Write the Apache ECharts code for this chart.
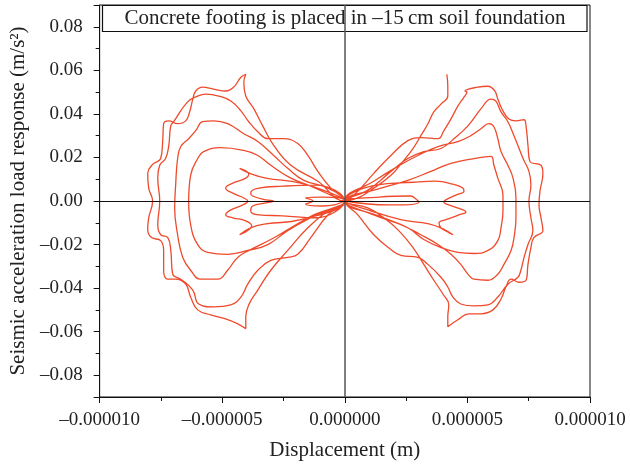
<!DOCTYPE html>
<html>
<head>
<meta charset="utf-8">
<script src="https://cdn.jsdelivr.net/npm/echarts@6/dist/echarts.min.js"></script>
<style>html,body{margin:0;padding:0;background:#fff}#c{width:630px;height:466px}</style>
</head>
<body>
<div id="c"></div>
<script>
// x values in micrometres (converted to metres with UNIT), y values in m/s^2
const UNIT = 1e-6;
const titleText = 'Concrete footing is placed in \u201315\u2009cm soil foundation';
const xName = 'Displacement (m)';
const yName = 'Seismic acceleration load response (m/s\u00b2)';

const rayTopRight = [[4.16,0.0582],[4.20,0.0527],[4.20,0.0482],[3.92,0.0445],[3.63,0.0409],[3.39,0.0355],[3.10,0.0300],[2.78,0.0241],[2.37,0.0182],[1.88,0.0118],[1.18,0.0059],[0.53,0.0014],[0,0]];

const loopL1 = [[-1.10,0.0091],[-2.20,0.0164],[-2.90,0.0255],[-3.35,0.0345],[-3.71,0.0423],[-4.04,0.0482],[-4.12,0.0545],[-4.04,0.0582],[-4.24,0.0568],[-4.53,0.0523],[-4.86,0.0505],[-5.35,0.0514],[-5.80,0.0523],[-6.08,0.0505],[-6.20,0.0468],[-6.33,0.0409],[-6.49,0.0368],[-6.82,0.0355],[-7.18,0.0368],[-7.39,0.0355],[-7.43,0.0273],[-7.51,0.0195],[-7.84,0.0168],[-8.04,0.0127],[-8.00,0.0059],[-7.84,0],[-8.00,-0.0077],[-8.04,-0.0132],[-7.88,-0.0168],[-7.51,-0.0182],[-7.39,-0.0227],[-7.39,-0.0318],[-7.22,-0.0359],[-6.90,-0.0359],[-6.49,-0.0382],[-6.29,-0.0441],[-6.00,-0.0500],[-5.47,-0.0523],[-4.86,-0.0541],[-4.37,-0.0564],[-4.04,-0.0586],[-4.04,-0.0532],[-3.92,-0.0477],[-3.55,-0.0409],[-3.02,-0.0318],[-2.33,-0.0227],[-1.51,-0.0123],[-0.69,-0.0045],[0,0]];

const loopL2 = [[-0.57,0.0059],[-1.10,0.0136],[-1.51,0.0209],[-1.92,0.0264],[-2.49,0.0286],[-3.14,0.0286],[-3.55,0.0318],[-3.92,0.0364],[-4.24,0.0414],[-4.65,0.0459],[-5.14,0.0482],[-5.67,0.0491],[-6.00,0.0482],[-6.41,0.0455],[-6.98,0.0364],[-7.10,0.0345],[-7.18,0.0255],[-7.31,0.0195],[-7.55,0.0164],[-7.63,0.0105],[-7.55,0],[-7.63,-0.0109],[-7.51,-0.0155],[-7.22,-0.0168],[-7.10,-0.0227],[-7.02,-0.0336],[-6.69,-0.0359],[-6.20,-0.0409],[-5.96,-0.0473],[-5.35,-0.0486],[-4.65,-0.0477],[-4.24,-0.0441],[-3.96,-0.0382],[-3.55,-0.0318],[-3.02,-0.0273],[-2.33,-0.0259],[-1.92,-0.0245],[-1.39,-0.0168],[-0.69,-0.0064],[0,0]];

const loopL3 = [[-0.69,0.0059],[-1.67,0.0095],[-2.33,0.0150],[-2.90,0.0209],[-3.55,0.0273],[-4.12,0.0309],[-4.78,0.0355],[-5.35,0.0368],[-5.80,0.0364],[-6.08,0.0323],[-6.37,0.0286],[-6.69,0.0250],[-6.82,0.0195],[-6.90,0.0073],[-6.94,-0.0032],[-6.82,-0.0155],[-6.61,-0.0259],[-6.29,-0.0318],[-5.88,-0.0359],[-5.18,-0.0359],[-4.78,-0.0318],[-4.37,-0.0259],[-3.84,-0.0223],[-3.02,-0.0177],[-2.20,-0.0123],[-1.27,-0.0064],[0,0]];

const loopL4 = [[-0.57,0.0027],[-1.39,0.0068],[-2.20,0.0105],[-3.02,0.0164],[-3.55,0.0209],[-4.12,0.0232],[-5.06,0.0245],[-5.76,0.0227],[-6.00,0.0195],[-6.29,0.0118],[-6.37,0],[-6.29,-0.0109],[-6.00,-0.0200],[-5.59,-0.0236],[-4.78,-0.0245],[-3.96,-0.0227],[-3.14,-0.0200],[-2.33,-0.0136],[-1.39,-0.0077],[0,0]];

const loopL5 = [[-0.57,0.0036],[-1.80,0.0082],[-3.22,0.0105],[-3.80,0.0123],[-4.29,0.0150],[-3.92,0.0123],[-4.04,0.0105],[-4.57,0.0082],[-4.86,0.0059],[-4.57,0.0036],[-4.12,0.0014],[-3.96,0],[-4.16,-0.0018],[-4.65,-0.0041],[-4.86,-0.0064],[-4.57,-0.0077],[-4.04,-0.0091],[-3.80,-0.0114],[-4.29,-0.0155],[-3.84,-0.0123],[-3.22,-0.0105],[-1.80,-0.0086],[0,0]];

const loopL6 = [[-1.18,0.0073],[-2.53,0.0068],[-3.51,0.0059],[-3.84,0.0036],[-3.76,0.0023],[-3.22,0.0005],[-2.90,0],[-3.22,-0.0009],[-3.76,-0.0023],[-3.84,-0.0045],[-3.51,-0.0064],[-2.53,-0.0068],[-1.18,-0.0077],[0,0]];

const loopL7 = [[-0.9,0.0018],[-1.6,0.0014],[-1.3,0],[-1.6,-0.0014],[-0.9,-0.0023],[0,0]];

const loopR1 = [[0.53,0.0045],[1.18,0.0127],[1.88,0.0209],[2.57,0.0277],[3.10,0.0291],[3.80,0.0286],[4.04,0.0323],[4.33,0.0377],[4.61,0.0436],[4.86,0.0477],[4.98,0.0500],[4.90,0.0505],[5.43,0.0523],[5.84,0.0527],[6.12,0.0505],[6.24,0.0468],[6.45,0.0414],[6.69,0.0377],[6.98,0.0368],[7.31,0.0373],[7.39,0.0345],[7.47,0.0255],[7.55,0.0182],[8.00,0.0164],[8.08,0.0127],[7.96,0.0045],[7.92,-0.0018],[8.00,-0.0077],[8.08,-0.0136],[7.71,-0.0168],[7.59,-0.0214],[7.47,-0.0291],[7.39,-0.0364],[7.10,-0.0373],[6.78,-0.0359],[6.57,-0.0395],[6.37,-0.0450],[6.04,-0.0500],[5.55,-0.0518],[5.06,-0.0518],[4.61,-0.0545],[4.20,-0.0577],[4.20,-0.0532],[4.24,-0.0477],[4.00,-0.0427],[3.63,-0.0364],[3.22,-0.0291],[2.78,-0.0214],[2.20,-0.0136],[1.59,-0.0077],[0.94,-0.0032],[0,0]];

const loopR2 = [[0.94,0.0050],[1.88,0.0136],[2.57,0.0195],[3.22,0.0227],[3.92,0.0241],[4.45,0.0286],[5.02,0.0345],[5.55,0.0423],[5.96,0.0468],[6.16,0.0459],[6.37,0.0409],[6.65,0.0364],[6.90,0.0300],[7.06,0.0255],[7.27,0.0195],[7.51,0.0136],[7.59,0.0073],[7.51,0],[7.59,-0.0077],[7.67,-0.0136],[7.47,-0.0200],[7.31,-0.0259],[7.18,-0.0318],[7.06,-0.0350],[6.65,-0.0382],[6.24,-0.0441],[5.84,-0.0477],[5.27,-0.0482],[4.73,-0.0473],[4.41,-0.0441],[4.20,-0.0395],[3.92,-0.0350],[3.39,-0.0291],[2.98,-0.0259],[2.29,-0.0250],[1.88,-0.0223],[1.18,-0.0155],[0.53,-0.0064],[0,0]];

const loopR3 = [[1.18,0.0091],[2.16,0.0159],[2.98,0.0209],[3.80,0.0250],[4.61,0.0273],[5.14,0.0300],[5.55,0.0332],[5.88,0.0355],[6.08,0.0341],[6.24,0.0286],[6.37,0.0227],[6.65,0.0164],[6.86,0.0105],[6.98,0.0014],[6.98,-0.0077],[6.90,-0.0168],[6.78,-0.0227],[6.49,-0.0291],[6.24,-0.0336],[5.84,-0.0364],[5.27,-0.0359],[5.02,-0.0336],[4.73,-0.0291],[4.33,-0.0245],[3.80,-0.0200],[3.10,-0.0155],[2.29,-0.0109],[1.18,-0.0064],[0,0]];

const loopR4 = [[1.47,0.0059],[2.57,0.0095],[3.51,0.0136],[4.33,0.0173],[5.27,0.0195],[5.96,0.0205],[6.08,0.0164],[6.24,0.0105],[6.45,0.0027],[6.45,-0.0045],[6.37,-0.0123],[6.24,-0.0182],[5.84,-0.0227],[5.27,-0.0241],[4.61,-0.0236],[3.92,-0.0214],[3.22,-0.0177],[2.57,-0.0123],[1.59,-0.0077],[0,0]];

const loopR5 = [[1.27,0.0073],[2.78,0.0086],[3.71,0.0091],[4.41,0.0077],[4.82,0.0059],[4.86,0.0045],[4.53,0.0027],[4.12,0.0005],[4.04,-0.0005],[4.24,-0.0018],[4.82,-0.0041],[4.94,-0.0050],[4.65,-0.0064],[4.12,-0.0086],[3.84,-0.0100],[3.92,-0.0123],[4.24,-0.0145],[4.41,-0.0155],[4.08,-0.0132],[3.43,-0.0105],[2.29,-0.0086],[1.06,-0.0045],[0,0]];

const loopR6 = [[1.39,0.0018],[2.69,0.0023],[2.90,0.0009],[3.02,-0.0005],[2.29,-0.0018],[1.80,-0.0018],[0,0]];

const pathParts = [rayTopRight, loopL1, loopL2, loopL3, loopL4, loopL5, loopL6, loopL7, loopR1, loopR2, loopR3, loopR4, loopR5, loopR6];
const seriesData = [];
pathParts.forEach(part => part.forEach(p => seriesData.push([p[0] * UNIT, p[1]])));

const FONT = 'Liberation Serif';
const dash = '\u2013';
const chart = echarts.init(document.getElementById('c'), null, {renderer: 'canvas'});
chart.setOption({
  animation: false,
  backgroundColor: '#fff',
  grid: {left: 99, right: 40, top: 5, bottom: 65, show: true, borderColor: '#111', borderWidth: 1, backgroundColor: 'transparent'},
  xAxis: {
    type: 'value', min: -1e-5, max: 1e-5, interval: 5e-6,
    name: xName, nameLocation: 'middle', nameGap: 43,
    nameTextStyle: {fontFamily: FONT, fontSize: 21, color: '#222'},
    axisLine: {onZero: false, lineStyle: {color: '#111', width: 1}},
    axisTick: {show: true, inside: false, length: 6, lineStyle: {color: '#111'}},
    minorTick: {show: true, splitNumber: 2, length: 4, lineStyle: {color: '#111'}},
    splitLine: {show: false},
    axisLabel: {margin: 14, fontFamily: FONT, fontSize: 19, color: '#222',
      formatter: v => (v < 0 ? dash : '') + Math.abs(v).toFixed(6)}
  },
  yAxis: {
    type: 'value', min: -0.09, max: 0.09, splitNumber: 9,
    name: yName, nameLocation: 'middle', nameGap: 62,
    nameTextStyle: {fontFamily: FONT, fontSize: 21, color: '#222'},
    axisLine: {onZero: false, lineStyle: {color: '#111', width: 1}},
    axisTick: {show: true, inside: false, length: 6, lineStyle: {color: '#111'}},
    minorTick: {show: true, splitNumber: 2, length: 4, lineStyle: {color: '#111'}},
    splitLine: {show: false},
    axisLabel: {margin: 17, fontFamily: FONT, fontSize: 19, color: '#222', showMinLabel: false, showMaxLabel: false,
      formatter: v => (v < -1e-9 ? dash : '') + Math.abs(v).toFixed(2)}
  },
  series: [{
    type: 'line',
    data: seriesData,
    showSymbol: false, symbol: 'none',
    smooth: 0.45,
    z: 3,
    lineStyle: {color: '#ef4a2b', width: 1.3},
    markLine: {
      silent: true, symbol: 'none', animation: false,
      label: {show: false},
      data: [
        {xAxis: 0, lineStyle: {color: '#555', width: 1.5, type: 'solid'}},
        {yAxis: 0, lineStyle: {color: '#111', width: 1.2, type: 'solid'}}
      ]
    }
  }],
  graphic: [{
    type: 'group', z: 100,
    children: [
      {type: 'rect', shape: {x: 102.5, y: 5.5, width: 484.5, height: 26}, style: {fill: '#fff', stroke: '#111', lineWidth: 1.2}},
      {type: 'text', x: 345, y: 18.5, style: {text: titleText, font: '21px "Liberation Serif"', fill: '#222', textAlign: 'center', textVerticalAlign: 'middle'}}
    ]
  }]
});
</script>
</body>
</html>
